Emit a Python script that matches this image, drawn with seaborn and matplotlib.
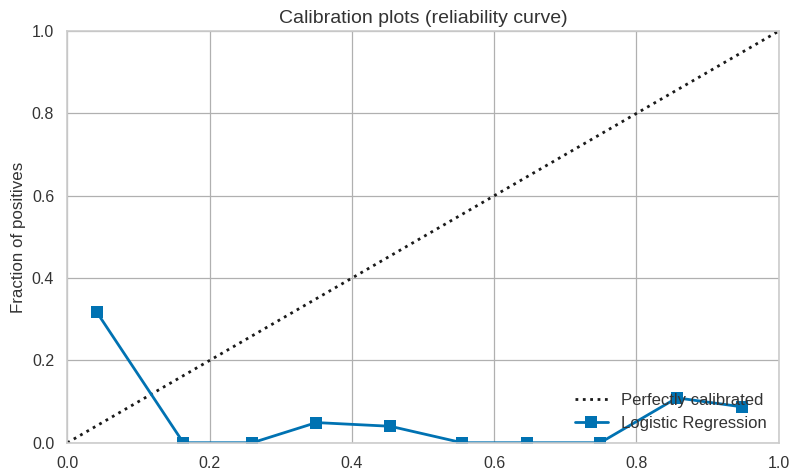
import matplotlib
matplotlib.use('Agg')
import matplotlib.pyplot as plt
import pandas as pd
import seaborn as sns

# Data
mean_predicted = [0.041, 0.163, 0.26, 0.35, 0.454, 0.555, 0.646, 0.749, 0.857, 0.949]
fraction_pos = [0.318, 0.0, 0.0, 0.049, 0.04, 0.0, 0.0, 0.0, 0.109, 0.087]
diag = [0.0, 1.0]

sns.set_theme(style='whitegrid', palette='colorblind',
              rc={'axes.edgecolor': '#cccccc', 'grid.color': '#b0b0b0',
                  'axes.linewidth': 1.2, 'grid.linewidth': 0.9,
                  'text.color': '#333333', 'axes.labelcolor': '#333333',
                  'xtick.color': '#333333', 'ytick.color': '#333333'})
plt.rcParams['font.family'] = ['Liberation Sans', 'DejaVu Sans']

df = pd.DataFrame({'mean_predicted': mean_predicted, 'fraction_pos': fraction_pos})

fig, ax = plt.subplots(figsize=(7.93, 4.71), dpi=100)

ax.plot(diag, diag, 'k:', lw=2, label='Perfectly calibrated')
sns.lineplot(data=df, x='mean_predicted', y='fraction_pos', ax=ax, color='#0072B2',
             marker='s', markersize=9, markeredgewidth=0, lw=2,
             label='Logistic Regression')

ax.set_xlim(0, 1)
ax.set_ylim(0, 1)
ax.set_xlabel('')
ax.set_ylabel('Fraction of positives', fontsize=12.2)
ax.set_title('Calibration plots (reliability curve)', fontsize=14)
ax.tick_params(labelsize=11.5)
ax.legend(loc='lower right', frameon=False, fontsize=12, borderaxespad=0.3)

plt.subplots_adjust(left=0.085, right=0.982, top=0.934, bottom=0.06)
fig.savefig('out.png')
